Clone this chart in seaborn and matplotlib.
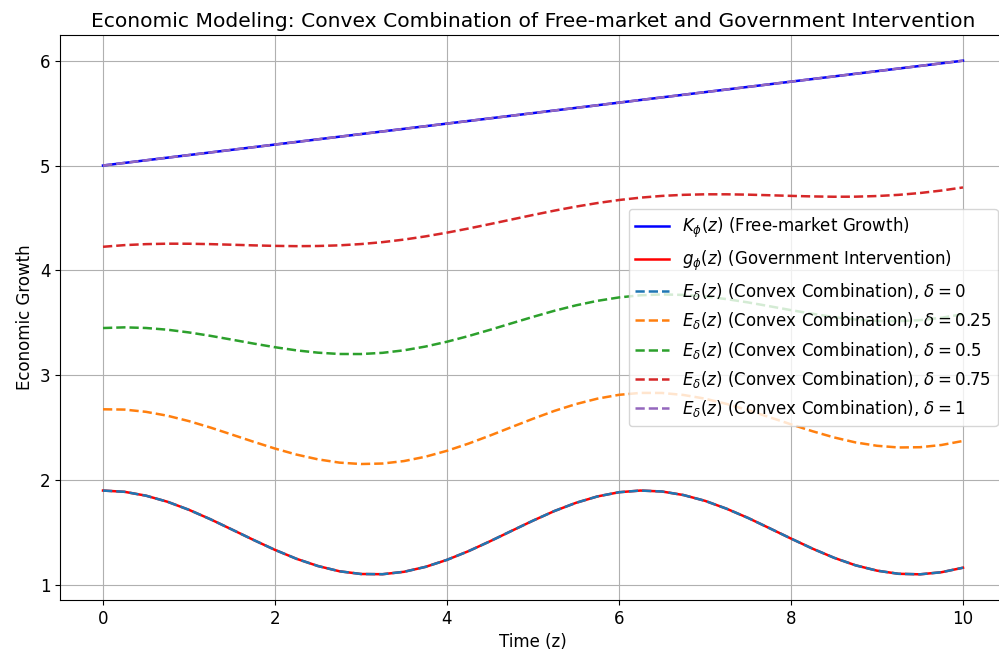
import numpy as np
import pandas as pd
import matplotlib
matplotlib.use("Agg")
import matplotlib.pyplot as plt
import seaborn as sns

# Time grid (z)
z = [0.0, 0.25, 0.5, 0.75, 1.0, 1.25, 1.5, 1.75, 2.0, 2.25, 2.5, 2.75, 3.0, 3.25,
     3.5, 3.75, 4.0, 4.25, 4.5, 4.75, 5.0, 5.25, 5.5, 5.75, 6.0, 6.25, 6.5, 6.75,
     7.0, 7.25, 7.5, 7.75, 8.0, 8.25, 8.5, 8.75, 9.0, 9.25, 9.5, 9.75, 10.0]

# Free-market growth K_phi(z) (straight line 5 -> 6)
K_vals = [5.000, 5.025, 5.050, 5.075, 5.100, 5.125, 5.150, 5.175, 5.200, 5.225,
          5.250, 5.275, 5.300, 5.325, 5.350, 5.375, 5.400, 5.425, 5.450, 5.475,
          5.500, 5.525, 5.550, 5.575, 5.600, 5.625, 5.650, 5.675, 5.700, 5.725,
          5.750, 5.775, 5.800, 5.825, 5.850, 5.875, 5.900, 5.925, 5.950, 5.975,
          6.000]

# Government intervention g_phi(z) (oscillating curve)
g_vals = [1.900, 1.888, 1.851, 1.793, 1.716, 1.626, 1.528, 1.429, 1.334, 1.249,
          1.180, 1.130, 1.104, 1.102, 1.125, 1.172, 1.239, 1.322, 1.416, 1.515,
          1.613, 1.705, 1.783, 1.844, 1.884, 1.900, 1.891, 1.857, 1.802, 1.727,
          1.639, 1.541, 1.442, 1.346, 1.259, 1.187, 1.136, 1.106, 1.101, 1.121,
          1.164]

# Convex combination weights
deltas = [0, 0.25, 0.5, 0.75, 1]
delta_labels = ["0", "0.25", "0.5", "0.75", "1"]
delta_colors = ["#1f77b4", "#ff7f0e", "#2ca02c", "#d62728", "#9467bd"]

plt.rcParams["font.size"] = 12
plt.rcParams["axes.titlesize"] = 14.6
plt.rcParams["axes.labelsize"] = 12
plt.rcParams["xtick.labelsize"] = 12
plt.rcParams["ytick.labelsize"] = 12
plt.rcParams["legend.fontsize"] = 12

fig = plt.figure(figsize=(9.99, 6.55), dpi=100)
ax = fig.add_axes([60 / 999, 55 / 655, 946 / 999, 565 / 655])

zz = np.array(z)
K = np.array(K_vals)
g = np.array(g_vals)

lw = 1.8
sns.lineplot(x=zz, y=K, ax=ax, color="blue", linewidth=lw,
             label=r"$K_\phi(z)$ (Free-market Growth)")
sns.lineplot(x=zz, y=g, ax=ax, color="red", linewidth=lw,
             label=r"$g_\phi(z)$ (Government Intervention)")

for d, dl, c in zip(deltas, delta_labels, delta_colors):
    E = (1 - d) * g + d * K
    sns.lineplot(x=zz, y=E, ax=ax, color=c, linestyle="--", linewidth=lw,
                 label=r"$E_\delta(z)$ (Convex Combination), $\delta = " + dl + "$")

ax.set_title("Economic Modeling: Convex Combination of Free-market and Government Intervention")
ax.set_xlabel("Time (z)")
ax.set_ylabel("Economic Growth")
ax.grid(True)
ax.legend(loc="center right")

fig.savefig("out.png", dpi=100)
